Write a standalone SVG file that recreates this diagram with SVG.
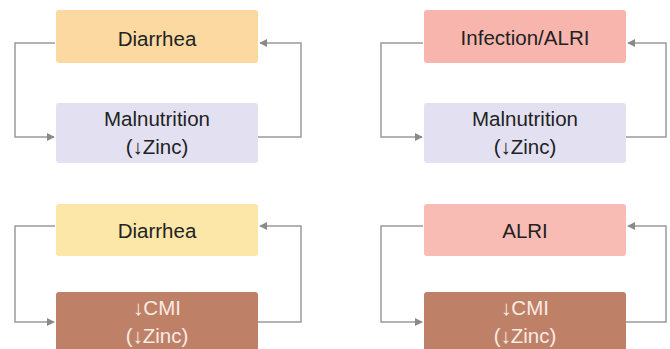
<svg xmlns="http://www.w3.org/2000/svg" width="670" height="349" viewBox="0 0 670 349">
<style>
.lbl{font-family:"Liberation Sans",Arial,sans-serif;font-size:20.5px;fill:#222;text-anchor:middle}
.wt{fill:#f8ebe4}
.c{fill:none;stroke:#9a9a9a;stroke-width:1.5}
</style>
<defs>
<marker id="ah" viewBox="0 0 10 10" refX="9" refY="5" markerWidth="8" markerHeight="8" markerUnits="userSpaceOnUse" orient="auto">
<path d="M0,0 L10,5 L0,10 z" fill="#8a8a8a"/>
</marker>
</defs>
<rect width="670" height="349" fill="#fff"/>
<g id="connectors">
<path class="c" d="M55,43 H15 V137 H54" marker-end="url(#ah)"/>
<path class="c" d="M258,137 H301 V43 H260" marker-end="url(#ah)"/>
<path class="c" d="M423,43 H381 V137 H422" marker-end="url(#ah)"/>
<path class="c" d="M626,137 H666 V43 H628" marker-end="url(#ah)"/>
<path class="c" d="M55,226 H15 V322 H54" marker-end="url(#ah)"/>
<path class="c" d="M258,322 H301 V226 H260" marker-end="url(#ah)"/>
<path class="c" d="M423,226 H381 V322 H422" marker-end="url(#ah)"/>
<path class="c" d="M626,322 H666 V226 H628" marker-end="url(#ah)"/>
</g>
<g id="diarrhea1"><rect x="56" y="10" width="202" height="53" rx="3" fill="#fcd9a1"/><text class="lbl" x="157" y="46">Diarrhea</text></g>
<g id="malnutrition1"><rect x="56" y="103" width="202" height="60" rx="3" fill="#e3e1f1"/><text class="lbl" x="157" y="126">Malnutrition</text><text class="lbl" x="157" y="154">(↓Zinc)</text></g>
<g id="infection"><rect x="424" y="10" width="202" height="53" rx="3" fill="#f7b5ae"/><text class="lbl" x="525" y="45">Infection/ALRI</text></g>
<g id="malnutrition2"><rect x="424" y="103" width="202" height="60" rx="3" fill="#e3e1f1"/><text class="lbl" x="525" y="126">Malnutrition</text><text class="lbl" x="525" y="154">(↓Zinc)</text></g>
<g id="diarrhea2"><rect x="56" y="204" width="202" height="52" rx="3" fill="#fce6a8"/><text class="lbl" x="157" y="238">Diarrhea</text></g>
<g id="cmi1"><rect x="56" y="292" width="202" height="70" rx="3" fill="#bf8068"/><text class="lbl wt" x="157" y="315">↓CMI</text><text class="lbl wt" x="157" y="343">(↓Zinc)</text></g>
<g id="alri"><rect x="424" y="204" width="202" height="52" rx="3" fill="#f9bcb4"/><text class="lbl" x="525" y="238">ALRI</text></g>
<g id="cmi2"><rect x="424" y="292" width="202" height="70" rx="3" fill="#bf8068"/><text class="lbl wt" x="525" y="315">↓CMI</text><text class="lbl wt" x="525" y="343">(↓Zinc)</text></g>
</svg>
